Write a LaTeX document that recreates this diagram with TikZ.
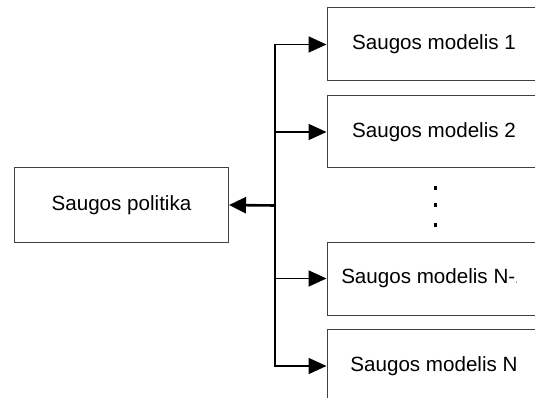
\documentclass[tikz,border=0pt]{standalone}
\usepackage{fontspec}
\setmainfont{Liberation Sans}
\usetikzlibrary{arrows.meta}
\begin{document}
\begin{tikzpicture}[x=1pt,y=-1pt,
  box/.style={draw=black!75, line width=1pt, minimum width=214pt, inner sep=0pt},
  label/.style={inner sep=0pt, font=\fontsize{20.6}{24}\selectfont},
  conn/.style={line width=1.8pt, -{Triangle[length=18pt,width=16pt]}},
  trunk/.style={line width=1.8pt},
  dot/.style={fill=black, minimum width=3pt, minimum height=4pt, inner sep=0pt}]
  \useasboundingbox (0,0) rectangle (535,398);
  \clip (0,0) rectangle (535,398);

  % policy box on the left
  \node[box, minimum height=74pt] (pol) at (121.5,205) {};
  \node[label] (tpol) at (pol.center) {Saugos politika};

  % model boxes on the right
  \node[box, minimum height=73pt] (m1)  at (434,44.5)  {};
  \node[box, minimum height=72pt] (m2)  at (434,132)   {};
  \node[box, minimum height=73pt] (mN1) at (434,278.5) {};
  \node[box, minimum height=73pt] (mN)  at (434,366)   {};

  \begin{scope}
    \clip (0,0) rectangle (516.5,398);
    \node[label] (t1)  at (m1.center)  {Saugos modelis 1};
    \node[label] (t2)  at (m2.center)  {Saugos modelis 2};
    \node[label] (tN1) at (mN1.center) {Saugos modelis N-1};
    \node[label] (tN)  at (mN.center)  {Saugos modelis N};
  \end{scope}

  % vertical ellipsis between the model boxes
  \node[dot] (d1) at (435,188) {};
  \node[dot] (d2) at (435,204.5) {};
  \node[dot] (d3) at (435,224.5) {};

  % distribution trunk and arrows
  \coordinate (hub) at (275,205.5);
  \draw[trunk] ([yshift=0.9pt]hub |- m1.west) -- ([yshift=-0.9pt]hub |- mN.west);
  \draw[conn, line width=2.6pt, -{Triangle[length=17pt,width=16pt]}] (hub) -- (pol.east);
  \draw[conn] (hub |- m1.west)  -- (m1.west);
  \draw[conn] (hub |- m2.west)  -- (m2.west);
  \draw[conn] (hub |- mN1.west) -- (mN1.west);
  \draw[conn] (hub |- mN.west)  -- (mN.west);
\end{tikzpicture}
\end{document}
